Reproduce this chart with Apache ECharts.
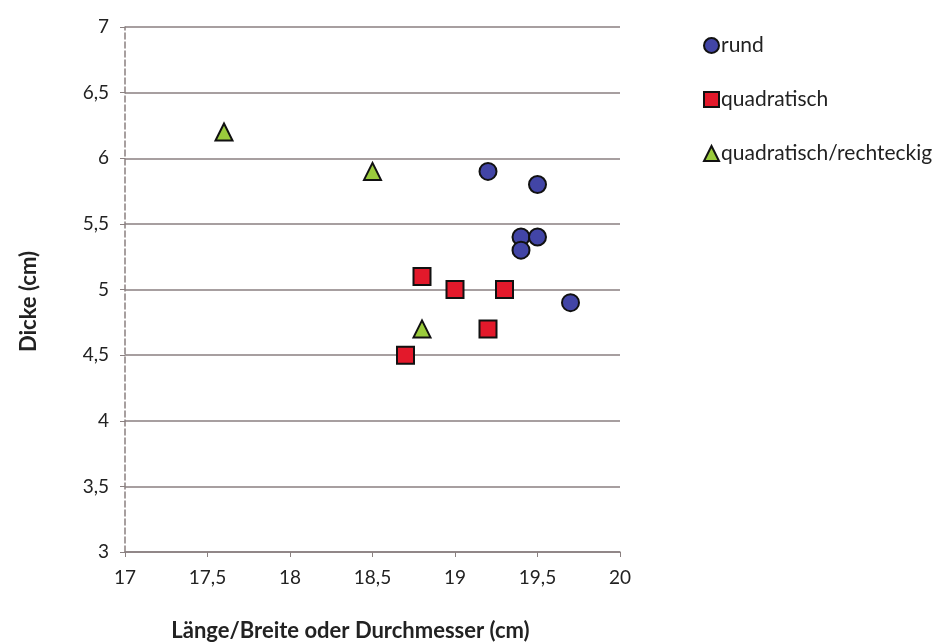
<!DOCTYPE html>
<html>
<head>
<meta charset="utf-8">
<script src="https://cdn.jsdelivr.net/npm/echarts@6/dist/echarts.min.js"></script>
<style>
  html, body { margin: 0; padding: 0; background: #fff; }
  #chart { width: 944px; height: 644px; }
</style>
</head>
<body>
<div id="chart"></div>
<script>
// Werte
var rundData = [[19.2, 5.9], [19.5, 5.8], [19.4, 5.4], [19.5, 5.4], [19.4, 5.3], [19.7, 4.9]];
var quadratData = [[18.8, 5.1], [19.0, 5.0], [19.3, 5.0], [19.2, 4.7], [18.7, 4.5]];
var rechteckData = [[17.6, 6.2], [18.5, 5.9], [18.8, 4.7]];
var seriesNames = ['rund', 'quadratisch', 'quadratisch/rechteckig'];

var fontFam = 'Lato, "Open Sans", sans-serif';

function fmt(v) {
    return String(v).replace('.', ',');
}

var chart = echarts.init(document.getElementById('chart'));
var option = {
    animation: false,
    textStyle: { fontFamily: fontFam },
    grid: { left: 125, right: 324, top: 27, bottom: 92, outerBoundsMode: 'none', containLabel: false },
    legend: {
        orient: 'vertical',
        left: 698,
        top: 30,
        itemGap: 33,
        itemWidth: 15,
        itemHeight: 15,
        textStyle: { fontSize: 21, color: '#222', fontFamily: fontFam, padding: [0, 0, 0, -3] },
        data: seriesNames
    },
    xAxis: {
        type: 'value',
        min: 17, max: 20, interval: 0.5,
        name: 'Länge/Breite oder Durchmesser (cm)',
        nameLocation: 'middle',
        nameGap: 68,
        nameTextStyle: { fontSize: 22, fontWeight: 'bold', color: '#222', padding: [0, 44, 0, 0] },
        axisLine: { lineStyle: { color: '#8a8080', width: 1.5 } },
        axisTick: { show: true, length: 5, lineStyle: { color: '#8a8080' } },
        axisLabel: { fontSize: 19, color: '#222', margin: 16, formatter: fmt },
        splitLine: { show: false }
    },
    yAxis: {
        type: 'value',
        min: 3, max: 7, interval: 0.5,
        name: 'Dicke (cm)',
        nameLocation: 'middle',
        nameGap: 85,
        nameTextStyle: { fontSize: 22, fontWeight: 'bold', color: '#222', padding: [0, 24, 0, 0] },
        axisLine: { show: true, lineStyle: { color: '#8a8080', width: 1.5, type: 'dashed' } },
        axisTick: { show: true, length: 5, lineStyle: { color: '#8a8080' } },
        axisLabel: { fontSize: 19, color: '#222', margin: 16, formatter: fmt },
        splitLine: { show: true, lineStyle: { color: '#8a7f80', width: 1.5 } }
    },
    series: [
        {
            name: seriesNames[0],
            type: 'scatter',
            symbol: 'circle',
            symbolSize: 17,
            itemStyle: { color: '#4245a6', borderColor: '#111', borderWidth: 2, opacity: 1 },
            data: rundData
        },
        {
            name: seriesNames[1],
            type: 'scatter',
            symbol: 'rect',
            symbolSize: 17,
            itemStyle: { color: '#e3192b', borderColor: '#111', borderWidth: 2, opacity: 1 },
            data: quadratData
        },
        {
            name: seriesNames[2],
            type: 'scatter',
            symbol: 'triangle',
            symbolSize: 17,
            itemStyle: { color: '#9acb3c', borderColor: '#111', borderWidth: 2, opacity: 1 },
            data: rechteckData
        }
    ]
};
chart.setOption(option);
</script>
</body>
</html>
